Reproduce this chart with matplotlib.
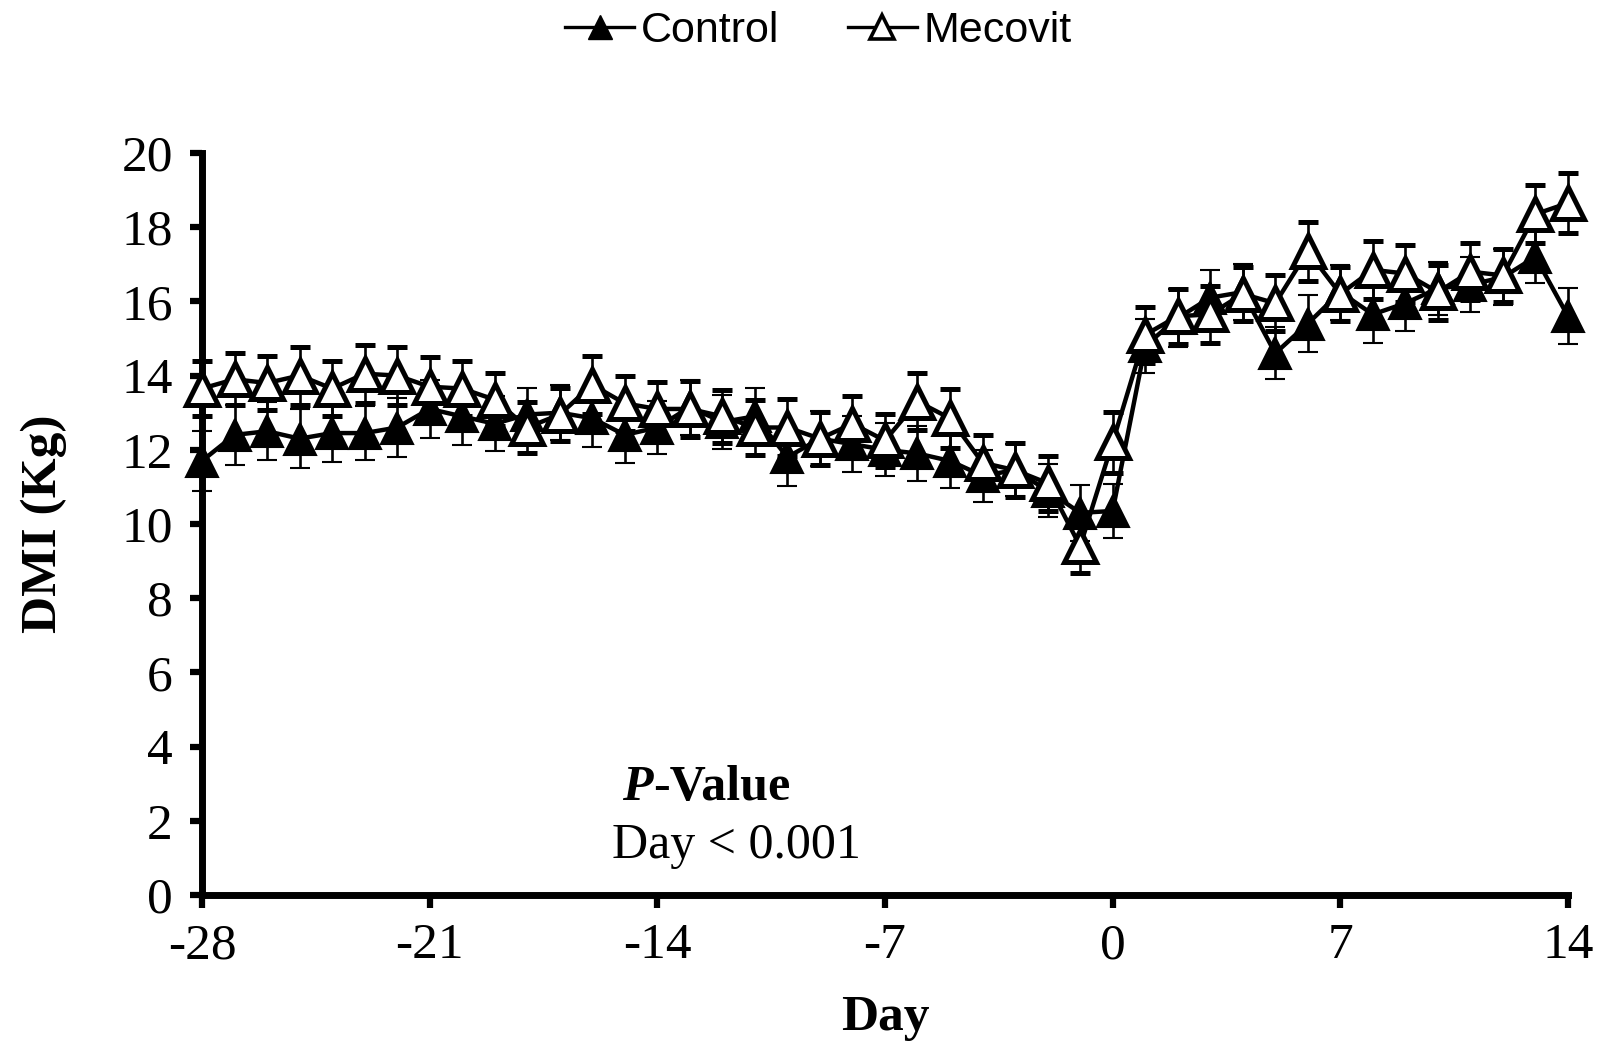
import matplotlib
matplotlib.use("Agg")
import matplotlib.pyplot as plt
from matplotlib.lines import Line2D

# Daily dry matter intake, days -28 .. 14 relative to calving
days = list(range(-28, 15))

control = [11.7, 12.4, 12.5, 12.3, 12.45, 12.45, 12.6, 13.1, 12.9, 12.7,
           12.95, 13.0, 12.85, 12.4, 12.6, 13.15, 12.75, 12.9, 11.8, 12.3,
           12.15, 12.0, 11.9, 11.7, 11.3, 11.45, 10.9, 10.3, 10.35, 14.8,
           15.55, 16.1, 16.25, 14.6, 15.4, 16.25, 15.65, 15.95, 16.35, 16.45,
           16.65, 17.2, 15.6]
control_sem = [0.8, 0.8, 0.78, 0.8, 0.78, 0.72, 0.8, 0.78, 0.76, 0.74,
               0.72, 0.75, 0.78, 0.76, 0.72, 0.74, 0.72, 0.76, 0.78, 0.74,
               0.76, 0.72, 0.74, 0.74, 0.7, 0.7, 0.72, 0.76, 0.74, 0.72,
               0.78, 0.75, 0.76, 0.7, 0.76, 0.74, 0.76, 0.74, 0.72, 0.74,
               0.76, 0.7, 0.76]

mecovit = [13.65, 13.9, 13.8, 14.0, 13.65, 14.05, 14.0, 13.7, 13.65, 13.35,
           12.6, 12.95, 13.75, 13.25, 13.1, 13.1, 12.9, 12.6, 12.6, 12.3,
           12.7, 12.25, 13.3, 12.85, 11.65, 11.45, 11.1, 9.4, 12.2, 15.1,
           15.6, 15.65, 16.2, 15.95, 17.35, 16.2, 16.85, 16.75, 16.25, 16.8,
           16.7, 18.35, 18.65]
mecovit_sem = [0.74, 0.7, 0.73, 0.78, 0.73, 0.78, 0.78, 0.8, 0.74, 0.72,
               0.7, 0.72, 0.78, 0.74, 0.72, 0.76, 0.72, 0.74, 0.76, 0.72,
               0.76, 0.72, 0.78, 0.8, 0.74, 0.72, 0.74, 0.72, 0.82, 0.76,
               0.74, 0.76, 0.72, 0.76, 0.8, 0.72, 0.78, 0.76, 0.74, 0.76,
               0.72, 0.78, 0.8]

x_ticks = [-28, -21, -14, -7, 0, 7, 14]
y_ticks = list(range(0, 21, 2))

serif = ["Liberation Serif", "DejaVu Serif"]
sans = ["Liberation Sans", "DejaVu Sans"]

fig = plt.figure(figsize=(15.98, 10.47), dpi=100)
ax = fig.add_axes([0.1264, 0.1452, 0.8548, 0.7087])

common = dict(color="black", lw=3.2, ecolor="black", elinewidth=1.9,
              capsize=7.2, capthick=1.9, marker="^", ms=23)

c1 = ax.errorbar(days, control, yerr=control_sem, mfc="black", mec="black",
                 mew=1.5, zorder=3, **common)
c2 = ax.errorbar(days, mecovit, yerr=mecovit_sem, mfc="white", mec="black",
                 mew=3.6, zorder=4, **common)
for cont in (c1, c2):
    for art in cont.get_children():
        art.set_clip_on(False)

ax.set_xlim(-28, 14)
ax.set_ylim(0, 20)
ax.set_xticks(x_ticks)
ax.set_yticks(y_ticks)
ax.set_xticklabels([str(v) for v in x_ticks])
ax.set_yticklabels([str(v) for v in y_ticks])

for side in ("top", "right"):
    ax.spines[side].set_visible(False)
for side in ("left", "bottom"):
    ax.spines[side].set_linewidth(5)
    ax.spines[side].set_capstyle("projecting")

ax.tick_params(axis="both", direction="out", length=9, width=4.5,
               labelsize=37, colors="black")
ax.tick_params(axis="y", pad=12)
ax.tick_params(axis="x", pad=11)
for lab in ax.get_xticklabels() + ax.get_yticklabels():
    lab.set_family(serif)

ax.set_xlabel("Day", fontsize=37, fontweight="bold", family=serif)
ax.set_ylabel("DMI (Kg)", fontsize=37, fontweight="bold", family=serif)
ax.xaxis.set_label_coords(0.5, -0.135)
ax.yaxis.set_label_coords(-0.099, 0.5)

# Statistical note
ax.text(0.330, 0.144, "P", transform=ax.transAxes, ha="right", va="center",
        fontsize=36, fontweight="bold", fontstyle="italic", family=serif)
ax.text(0.330, 0.144, "-Value", transform=ax.transAxes, ha="left",
        va="center", fontsize=36, fontweight="bold", family=serif)
ax.text(0.391, 0.066, "Day < 0.001", transform=ax.transAxes, ha="center",
        va="center", fontsize=36, family=serif)

handles = [
    Line2D([], [], color="black", lw=2.4, marker="^", ms=17, mfc="black",
           mec="black"),
    Line2D([], [], color="black", lw=2.4, marker="^", ms=17, mfc="white",
           mec="black", mew=2.6),
]
fig.legend(handles, ["Control", "Mecovit"], loc="center",
           bbox_to_anchor=(0.512, 0.97), ncol=2, frameon=False,
           prop={"family": sans, "size": 31}, handlelength=1.6,
           handletextpad=0.15, columnspacing=1.6, borderaxespad=0)

fig.savefig("out.png", dpi=100, facecolor="white")
